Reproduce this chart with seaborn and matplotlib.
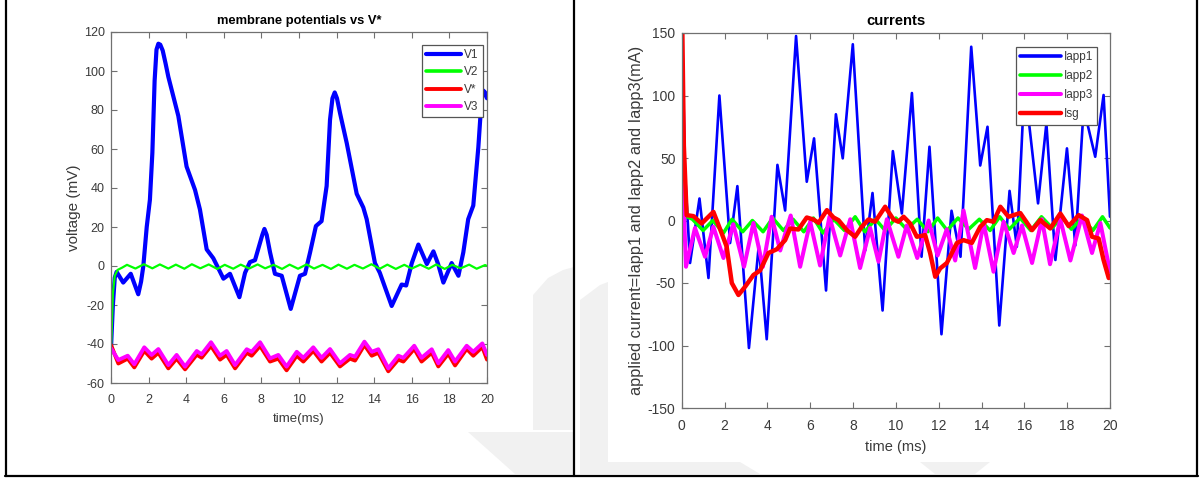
import numpy as np
import pandas as pd
import matplotlib
matplotlib.use("Agg")
import matplotlib.pyplot as plt
from matplotlib.lines import Line2D
from matplotlib.patches import Polygon
import seaborn as sns

# ---------------- data ----------------
# left panel: membrane potentials (mV) vs time (ms)
v1_t = [0, 0.1, 0.2, 0.3, 0.65, 1.05, 1.45, 1.6, 1.72, 1.9, 2.07, 2.2, 2.32, 2.42, 2.52, 2.62,
        2.75, 2.9, 3.05, 3.58, 4.02, 4.47,
        4.73, 5.09, 5.44, 5.7, 5.98, 6.33, 6.83, 7.13, 7.39, 7.66, 8.05, 8.16, 8.28, 8.46, 8.72,
        9.08, 9.56, 10.05,
        10.32, 10.59, 10.9, 11.2, 11.47, 11.65, 11.78, 11.9, 12.02, 12.18, 12.54, 13.07, 13.42,
        13.6, 14.04, 14.3,
        14.93, 15.46, 15.7, 16.0, 16.35, 16.8, 17.15, 17.4, 17.68, 18.12, 18.48, 18.74, 19.0, 19.27,
        19.54, 19.7, 19.8, 19.9, 20.0]
v1 = [-42, -20, -6, -3, -8.5, -4, -14.5, -8, 0, 20, 34, 58, 95, 111, 114, 113.5,
      110.5, 104, 97, 77, 51, 39,
      29, 8.5, 4, -1, -6.5, -4, -16, -3.5, 2, 3, 16, 19, 16, 7, -4,
      -5, -22, -5,
      -4, 7, 20.5, 23, 41, 75, 86, 89, 86, 78.5, 63, 37, 30,
      24, 1.5, -3.5,
      -20.5, -9.5, -10, 1.5, 11, 1, 7.5, 1, -8.5, 1.5, -5, 7, 24, 31,
      61, 84, 90, 89, 86]

v2_t = [0, 0.05, 0.1, 0.2, 0.35, 0.6, 0.85, 1.3, 1.75, 2.2, 2.6, 3.05, 3.45, 3.9, 4.3, 4.75,
        5.2, 5.65, 6.05, 6.5, 6.9, 7.35, 7.8, 8.2, 8.65, 9.1, 9.5, 9.95, 10.4, 10.8, 11.25, 11.7,
        12.1, 12.55, 12.95, 13.4, 13.85, 14.3, 14.7, 15.15, 15.6, 16.0, 16.45, 16.9, 17.3, 17.75,
        18.15, 18.6, 19.05, 19.45, 19.9, 20.0]
v2 = [-44, -30, -14, -5, -2, -0.8, 0.6, -1.3, 0.9, -1.2, 0.8, -1.3, 0.7, -1.4, 0.9, -1.2,
      0.8, -1.5, 0.6, -1.4, 0.7, -1.3, 0.8, -1.2, 0.6, -1.5, 0.7, -1.4, 0.8, -1.3, 0.6, -1.5,
      0.7, -1.4, 0.6, -1.3, 0.9, -1.4, 0.7, -1.5, 0.6, -1.3, 0.7, -1.4, 0.8, -1.5,
      0.6, -1.2, 0.7, -1.4, 0.5, 0.0]

v3_t = [0, 0.39, 0.89, 1.24, 1.77, 2.16, 2.52, 3.05, 3.49, 3.94, 4.56, 4.82, 5.32, 5.8, 6.15,
        6.6, 7.22, 7.48, 7.93, 8.46, 8.9, 9.34, 9.88, 10.23, 10.76, 11.2, 11.65, 12.18, 12.71,
        12.98, 13.48, 13.87, 14.22, 14.75, 15.28, 15.55, 16.13, 16.52, 17.06, 17.41, 17.94,
        18.3, 18.92, 19.27, 19.75, 20.0]
v3 = [-42.2, -48.2, -46, -50.4, -41.7, -45.6, -42.6, -50.8, -45.6, -51.6, -43.6, -45.3, -39.1,
      -46, -43.6, -50.8, -42.7, -44, -39.1, -47.4, -45.6, -51.6, -44, -47.1, -41.7, -47.1,
      -42.6, -49.9, -45.6, -46.5, -38.8, -44, -42.7, -52.5, -46, -47.1, -40.9, -47.1, -42.7,
      -49.9, -43.1, -49, -40.9, -44, -39.7, -45.6]
vstar = [-40.5, -50, -47.5, -52, -43.5, -47.5, -44.5, -52.5, -47.5, -53, -45.5, -47, -41,
         -48, -45.5, -52.5, -44.5, -46, -41, -49, -47.5, -53.5, -46, -49, -43.5, -49,
         -44.5, -51.5, -47.5, -48.5, -40.5, -46, -44.5, -54, -48, -49, -42.5, -49, -44.5,
         -51.5, -45, -51, -42.5, -46, -41.5, -48]

# right panel: currents (mA) vs time (ms)
i1_t = [0, 0.15, 0.39, 0.83, 1.25, 1.76, 2.26, 2.6, 3.14, 3.6, 3.97, 4.47, 4.83, 5.34, 5.84,
        6.18, 6.74, 7.2, 7.52, 7.99, 8.57, 8.91, 9.38, 9.86, 10.28, 10.75, 11.2, 11.57, 12.13,
        12.6, 13.02, 13.52, 13.94, 14.28, 14.83, 15.31, 15.65, 16.01, 16.64, 17.03, 17.45,
        17.99, 18.38, 18.77, 19.31, 19.7, 20.0]
iapp1 = [170, 40, -34, 17.6, -46, 100, -18, 27.5, -102, -20, -95, 44.5, 8, 147.6, 31,
         65.7, -56, 85, 49.7, 141, -24, 22, -72, 55.5, 5.6, 102, -29, 59, -91,
         7.8, -29, 139, 44, 75, -84, 23.7, -21, 110, 13.7, 77.7, -31.6,
         57.7, -20, 90, 51, 100.4, 3]

i2_t = [0, 0.1, 0.25, 0.5, 1.0, 1.45, 1.95, 2.35, 2.85, 3.3, 3.8, 4.25, 4.75, 5.2, 5.7,
        6.15, 6.6, 7.1, 7.6, 8.1, 8.55, 9.05, 9.5, 10.0, 10.5, 11.0, 11.5, 11.95, 12.4, 12.9,
        13.4, 13.9, 14.4, 14.85, 15.3, 15.8, 16.3, 16.8, 17.3, 17.75, 18.2, 18.7, 19.2, 19.65, 20.0]
iapp2 = [150, 40, 3, 1, -8, 0, -10, 1, -9, 0, -9, 2, -8, 1, -9,
         2, -10, 1, -8, 3, -9, 1, -8, 2, -7, 1, -9, 2, -8, 2,
         -7, 1, -8, 3, -7, 2, -8, 3, -6, 3, -7, 2, -8, 3, -6]

i3_t = [0, 0.2, 0.62, 1.09, 1.48, 1.95, 2.41, 2.91, 3.35, 3.79, 4.2, 4.6, 5.09, 5.53, 6.0,
        6.46, 6.9, 7.4, 7.87, 8.33, 8.8, 9.19, 9.58, 10.12, 10.51, 11.0, 11.53, 11.95, 12.38,
        12.77, 13.16, 13.7, 14.1, 14.56, 15.03, 15.5, 15.89, 16.36, 16.82, 17.2, 17.68, 18.15,
        18.69, 19.16, 19.55, 20.0]
iapp3 = [55, -37, -6, -29, -5, -30, -3, -37, -2, -37, 3, -24, 4, -37, -1,
         -36, 3, -28, 1, -38, -6, -33, 1, -29, -4, -30, 0, -28, -7,
         -32, 8, -38, -2, -41, -1, -26, -4, -34, 1, -35, 1, -32,
         4, -26, -2, -41]

isg_t = [0, 0.1, 0.23, 0.55, 0.93, 1.48, 1.87, 2.1, 2.34, 2.65, 2.96, 3.35, 3.66, 4.05, 4.44,
         4.83, 5.06, 5.45, 5.84, 6.15, 6.39, 6.78, 7.09, 7.32, 7.71, 8.1, 8.41, 8.72, 9.03, 9.5,
         9.89, 10.12, 10.36, 10.67, 10.98, 11.37, 11.6, 11.84, 12.07, 12.38, 12.85, 13.16, 13.55,
         13.94, 14.25, 14.56, 14.88, 15.26, 15.5, 15.81, 16.36, 16.74, 17.21, 17.68, 18.07,
         18.54, 18.93, 19.16, 19.47, 19.7, 19.94, 20.0]
isg = [190, 60, 4.3, 3.5, -2.4, 6.9, -10.4, -21, -50, -59.6, -53, -43.6, -40, -26, -23,
       -15.7, -6.4, -7.2, 2.4, 0.8, -1.9, 8.3, 2.4, 0.3, -7.7, -13, -5, 0.8, -1, 11,
       0.8, -1, 3, -2.4, -13, -11.7, -26, -45, -38.3, -34, -18, -15.7, -17.9,
       -5, 0.3, -1, 11, 3, 4.3, 6, -7.7, 0.3, -6.4, 5.6, -4.5,
       4.3, 0.3, -13, -14.4, -31.6, -46, -45]

left_xticks = [0, 2, 4, 6, 8, 10, 12, 14, 16, 18, 20]
left_yticks = [-60, -40, -20, 0, 20, 40, 60, 80, 100, 120]
right_yticks = [-150, -100, -50, 0, 50, 100, 150]

# ---------------- style ----------------
sns.set_theme(style="white")
plt.rcParams['font.family'] = ['Liberation Sans', 'DejaVu Sans']
plt.rcParams['axes.unicode_minus'] = False
TICK_C = '#3a3a3a'
SPINE_C = '#707070'

W, H = 1201, 479
fig = plt.figure(figsize=(W / 100, H / 100), dpi=100)
fig.patch.set_facecolor('white')

def fx(px):
    return px / W

def fy(py):
    return 1 - py / H

# faint watermark shapes behind everything
wm = '#f1f1f1'
for pts in [
    [(533, 295), (548, 278), (563, 270), (574, 267), (574, 430), (533, 430)],
    [(468, 432), (574, 432), (574, 474), (515, 474)],
    [(580, 300), (600, 285), (608, 282), (608, 462), (580, 462)],
    [(580, 462), (740, 462), (760, 474), (580, 474)],
    [(920, 462), (990, 462), (975, 474), (935, 474)],
]:
    fig.patches.append(Polygon([(fx(x), fy(y)) for x, y in pts], closed=True,
                               transform=fig.transFigure, facecolor=wm, edgecolor='none', zorder=0))

axL = fig.add_axes([fx(111), fy(383), (487 - 111) / W, (383 - 32) / H])
axR = fig.add_axes([fx(681.7), fy(408), (1110 - 681.7) / W, (408 - 33) / H])

dfL = {
    'V1': (v1_t, v1, '#0000ff', 3.0),
    'V2': (v2_t, v2, '#00ff00', 1.6),
    'V*': (v3_t, vstar, '#ff0000', 2.8),
    'V3': (v3_t, v3, '#ff00ff', 2.8),
}
for name, (t, y, c, lw) in dfL.items():
    sns.lineplot(x=t, y=y, ax=axL, color=c, lw=lw, sort=False, legend=False)

dfR = {
    'Iapp1': (i1_t, iapp1, '#0000ff', 1.9),
    'Iapp2': (i2_t, iapp2, '#00ff00', 2.5),
    'Iapp3': (i3_t, iapp3, '#ff00ff', 2.9),
    'Isg': (isg_t, isg, '#ff0000', 3.2),
}
for name, (t, y, c, lw) in dfR.items():
    sns.lineplot(x=t, y=y, ax=axR, color=c, lw=lw, sort=False, legend=False)

def style_axes(ax, yticks, ylim, lsize, xpad, ypad):
    ax.set_xlim(0, 20)
    ax.set_ylim(*ylim)
    ax.set_xticks(left_xticks)
    ax.set_yticks(yticks)
    ax.tick_params(direction='in', length=4, width=0.8, colors=SPINE_C,
                   labelcolor=TICK_C, labelsize=lsize, top=True, right=True,
                   bottom=True, left=True)
    ax.tick_params(axis='x', pad=xpad)
    ax.tick_params(axis='y', pad=ypad)
    for s in ax.spines.values():
        s.set_visible(True)
        s.set_color(SPINE_C)
        s.set_linewidth(0.9)
    ax.set_facecolor('white')
    ax.grid(False)

style_axes(axL, left_yticks, (-60, 120), 9, 8, 4.5)
style_axes(axR, right_yticks, (-150, 150), 10, 8, 4.5)

axL.set_title('membrane potentials vs V*', fontsize=9.3, fontweight='bold', color='black', pad=6)
axL.set_xlabel('time(ms)', fontsize=9.5, color=TICK_C, labelpad=5)
axL.set_ylabel('voltage (mV)', fontsize=11, color=TICK_C, labelpad=2)

axR.set_title('currents', fontsize=10.7, fontweight='bold', color='black', pad=6)
axR.set_xlabel('time (ms)', fontsize=10.5, color=TICK_C, labelpad=5)
axR.set_ylabel('applied current=Iapp1 and Iapp2 and Iapp3(mA)', fontsize=11.8,
               color=TICK_C, labelpad=3)

def make_legend(ax, d, anchor, fs, hl, ls):
    handles = [Line2D([], [], color=c, lw=max(lw, 2.6)) for (_, _, c, lw) in d.values()]
    leg = ax.legend(handles, list(d.keys()), loc='upper right', bbox_to_anchor=anchor,
                    fontsize=fs, frameon=True, fancybox=False, framealpha=1,
                    edgecolor='#555555', handlelength=hl, handletextpad=0.25,
                    labelspacing=ls, borderpad=0.35, borderaxespad=0)
    leg.get_frame().set_linewidth(0.9)
    for txt in leg.get_texts():
        txt.set_color(TICK_C)
    return leg

make_legend(axL, dfL, ((483 - 111) / 376, (383 - 45) / 351), 8.5, 3.0, 0.45)
make_legend(axR, dfR, ((1097 - 681.7) / 428.3, (408 - 47) / 375), 8.5, 3.4, 0.6)

# table-like border lines
for x in (6, 574, 1196.5):
    fig.add_artist(Line2D([fx(x), fx(x)], [fy(0), fy(476)], transform=fig.transFigure,
                          color='black', lw=1.6))
fig.add_artist(Line2D([fx(5), fx(1197.5)], [fy(475.5), fy(475.5)], transform=fig.transFigure,
                      color='black', lw=1.6))

fig.savefig('out.png', dpi=100, facecolor='white')
